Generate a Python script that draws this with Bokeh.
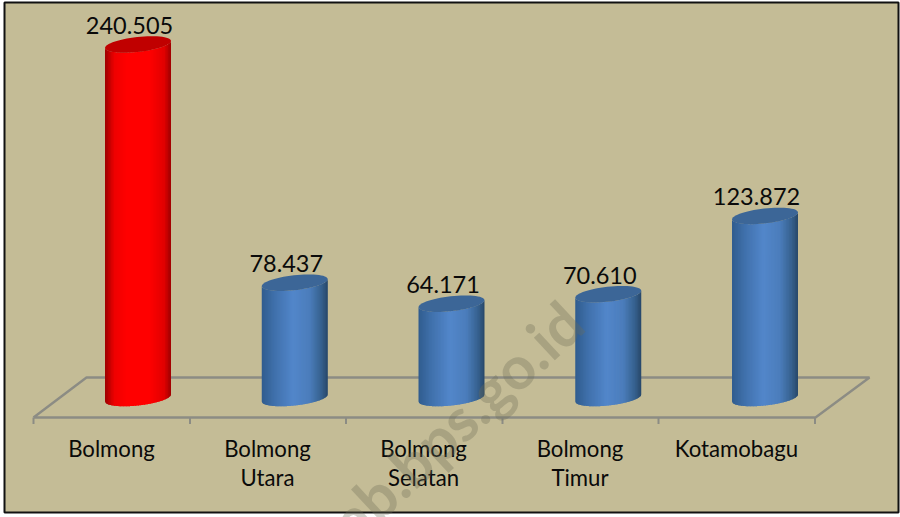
from bokeh.plotting import figure
from bokeh.embed import file_html
from bokeh.resources import INLINE
from bokeh.core.properties import value
from bokeh.models import BoxAnnotation
import numpy as np

regions_line1 = ["Bolmong", "Bolmong", "Bolmong", "Bolmong", "Kotamobagu"]
regions_line2 = ["", "Utara", "Selatan", "Timur", ""]
population = [240.505, 78.437, 64.171, 70.610, 123.872]
value_labels = ["240.505", "78.437", "64.171", "70.610", "123.872"]
highlight = [True, False, False, False, False]

W, H = 900, 517
PX_PER_CAT = 156.75
X0_PX = 137.5
PX_PER_UNIT = 1.47
BASE_PX = 397.5

def dx(px):
    return (np.asarray(px, float)) / PX_PER_CAT

def dy(px):
    return np.asarray(px, float) / PX_PER_UNIT

def xd(px):
    return (np.asarray(px, float) - X0_PX) / PX_PER_CAT

def yd(px):
    return (BASE_PX - np.asarray(px, float)) / PX_PER_UNIT

p = figure(width=W, height=H, output_backend="svg", toolbar_location=None,
           x_range=(float(xd(0)), float(xd(W))), y_range=(float(yd(H)), float(yd(0))),
           min_border=0, min_border_left=0, min_border_right=0, min_border_top=0, min_border_bottom=0,
           x_axis_location=None, y_axis_location=None, background_fill_color="white",
           border_fill_color="white", outline_line_color=None)
p.grid.visible = False
p.margin = (0, 0, 0, 0)

p.add_layout(BoxAnnotation(left=4, right=898, top=5, bottom=515,
                           left_units="screen", right_units="screen", top_units="screen", bottom_units="screen",
                           fill_color="#C4BC96", fill_alpha=1, line_color="#111111", line_alpha=1, line_width=2,
                           level="underlay"))

# floor
GREY = "#8C8C84"
floor_x = [33, 86, 869, 815, 33]
floor_y = [417, 377, 377, 417, 417]
p.line(xd(floor_x), yd(floor_y), line_color=GREY, line_width=2.4)
ticks = [33, 189.5, 345.5, 502, 658, 814.5]
p.segment(xd(ticks), yd([417] * 6), xd(ticks), yd([423.5] * 6), line_color=GREY, line_width=2)

# cylinders
HALF_W = 33.0
B = 7.5
TILT = 3.5

RED = [(-1, "#9C0000"), (-0.72, "#EE0000"), (-0.35, "#FF0000"), (0.35, "#FF0000"), (0.8, "#E00000"), (1, "#9C0000")]
BLUE = [(-1, "#305C8E"), (-0.6, "#4071AC"), (-0.05, "#5286CA"), (0.45, "#4B7DBB"), (0.8, "#36618F"), (1, "#274769")]

def ramp(stops, u):
    us = [s[0] for s in stops]
    rgb = [[int(s[1][i:i + 2], 16) for i in (1, 3, 5)] for s in stops]
    return "#%02x%02x%02x" % tuple(int(round(np.interp(u, us, [c[j] for c in rgb]))) for j in range(3))

N = 44
edges = np.linspace(-1, 1, N + 1)
xs, ys, cols = [], [], []
tx, ty, tc = [], [], []
for i, (v, hi) in enumerate(zip(population, highlight)):
    stops = RED if hi else BLUE
    for a, b in zip(edges[:-1], edges[1:]):
        u = np.linspace(a, min(b + 0.03, 1), 5)
        off = dx(u * HALF_W)
        front = dy(-u * TILT + B * np.sqrt(np.clip(1 - u ** 2, 0, 1)))
        top = v - front
        bot = 0 - front
        xs.append(list(i + off) + list(i + off[::-1]))
        ys.append(list(top) + list(bot[::-1]))
        cols.append(ramp(stops, (a + b) / 2))
    t = np.linspace(0, 2 * np.pi, 60)
    tx.append(list(i + dx(HALF_W * np.cos(t))))
    ty.append(list(v - dy(-TILT * np.cos(t) + B * np.sin(t))))
    tc.append("#C00000" if hi else "#3C6697")

p.patches(xs, ys, fill_color=cols, line_color=None)
p.patches(tx, ty, fill_color=tc, line_color=None)

idx = list(range(5))
FONT = value("Lato")
p.text(idx, population, text=value_labels, x_offset=-8.5, y_offset=-19,
       text_align="center", text_baseline="middle", text_font=FONT, text_font_size="23.5px", text_color="#0A0A0A")

cat_x = xd([111, 267, 423, 579.5, 736])
cat_y = float(yd(448))
cat_y2 = float(yd(476.5))
p.text(cat_x, [cat_y] * 5, text=regions_line1, text_align="center", text_baseline="middle",
       text_font=FONT, text_font_size="22.2px", text_color="#0A0A0A")
p.text(cat_x, [cat_y2] * 5, text=regions_line2, text_align="center", text_baseline="middle",
       text_font=FONT, text_font_size="22.2px", text_color="#0A0A0A")

# watermark
p.text([float(xd(572))], [float(yd(312))], text=["ab.bps.go.id"], angle=43, angle_units="deg",
       text_align="right", text_baseline="middle", text_font=value("Lato"), text_font_style="bold",
       text_font_size="60px", text_color="#6E6E58", text_alpha=0.32)

open("out.html", "w").write(file_html(p, INLINE))
